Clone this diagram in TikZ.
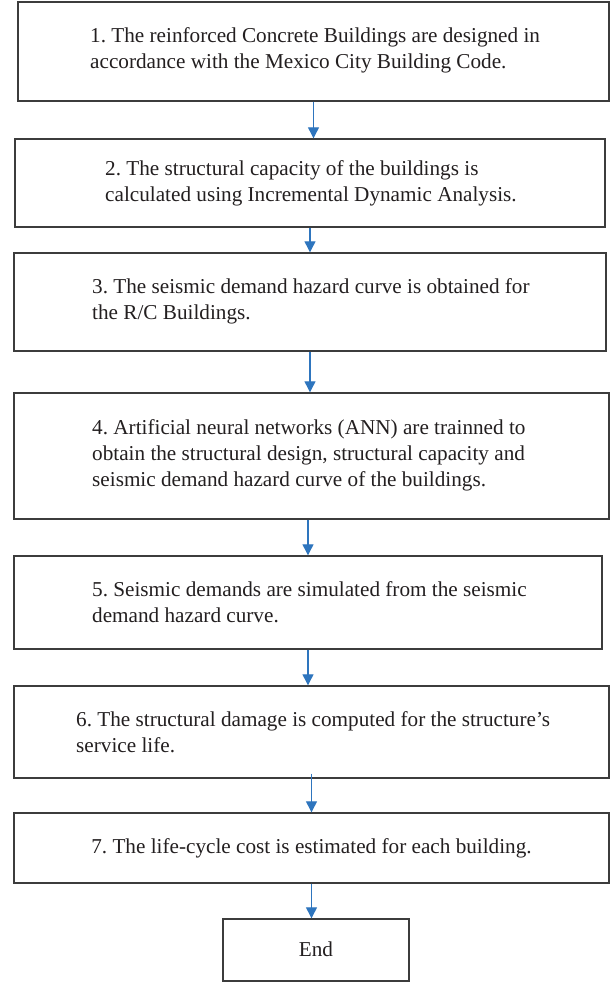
\documentclass[tikz,border=0pt]{standalone}
\usepackage{fontspec}
\setmainfont{Liberation Serif}
\usetikzlibrary{arrows.meta}
\definecolor{arrblue}{RGB}{46,117,190}
\definecolor{boxline}{RGB}{60,60,60}
\definecolor{txt}{RGB}{35,31,32}
\frenchspacing
\begin{document}
\begin{tikzpicture}[x=1pt,y=-1pt,
  box/.style={draw=boxline,line width=1.4pt,rectangle,inner sep=0pt,fill=white},
  txtnode/.style={inner sep=0pt,align=left,anchor=west,text=txt,font=\fontsize{21.2}{26}\selectfont},
  arr/.style={draw=arrblue,line width=1.2pt,-{Triangle[width=11pt,length=11pt]}}]
\useasboundingbox[fill=white] (0,0) rectangle (611,983);
% boxes
\node[box,minimum width=591,minimum height=99] (b1) at (313.5,51.5) {};
\node[box,minimum width=590,minimum height=88] (b2) at (310,183) {};
\node[box,minimum width=592,minimum height=98] (b3) at (310,302) {};
\node[box,minimum width=595,minimum height=126] (b4) at (311.5,456) {};
\node[box,minimum width=588,minimum height=93] (b5) at (308,602.5) {};
\node[box,minimum width=595,minimum height=92] (b6) at (311.5,732) {};
\node[box,minimum width=595,minimum height=70] (b7) at (311.5,848) {};
\node[box,minimum width=186,minimum height=62] (b8) at (316,950) {};
% texts
\node[txtnode] (t1) at (90,50) {1. The reinforced Concrete Buildings are designed in\\accordance with the Mexico City Building Code.};
\node[txtnode] (t2) at (105,183) {2. The structural capacity of the buildings is\\calculated using Incremental Dynamic Analysis.};
\node[txtnode] (t3) at (92,301) {3. The seismic demand hazard curve is obtained for\\the R/C Buildings.};
\node[txtnode] (t4) at (92,455) {4. Artificial neural networks (ANN) are trainned to\\obtain the structural design, structural capacity and\\seismic demand hazard curve of the buildings.};
\node[txtnode] (t5) at (92,602) {5. Seismic demands are simulated from the seismic\\demand hazard curve.};
\node[txtnode] (t6) at (76,732) {6. The structural damage is computed for the structure’s\\service life.};
\node[txtnode,anchor=center] (t7) at (311.5,848) {7. The life-cycle cost is estimated for each building.};
\node[txtnode,anchor=center] (t8) at (316,949) {End};
% arrows
\draw[arr] (b1.south) -- (b1.south |- b2.north);
\draw[arr] (b2.south) -- (b2.south |- b3.north);
\draw[arr] (b3.south) -- (b3.south |- b4.north);
\draw[arr] (b4.south -| b5.north) -- (b5.north);
\draw[arr] (b5.south) -- (b5.south |- b6.north);
\draw[arr] ([yshift=5pt]b6.south) -- (b6.south |- b7.north);
\draw[arr] (b7.south) -- (b7.south |- b8.north);
\end{tikzpicture}
\end{document}
